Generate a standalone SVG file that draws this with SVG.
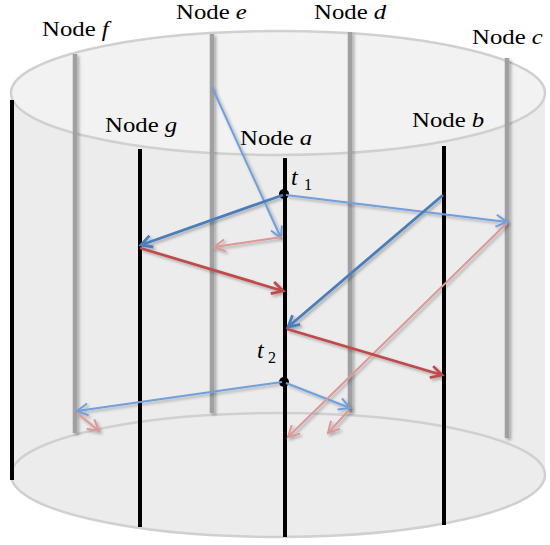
<svg xmlns="http://www.w3.org/2000/svg" width="550" height="545" viewBox="0 0 550 545">
<defs>
<filter id="sh" filterUnits="userSpaceOnUse" x="0" y="0" width="550" height="545">
<feDropShadow dx="2" dy="2" stdDeviation="1.5" flood-color="#000" flood-opacity="0.3"/>
</filter>
<marker id="mDB" viewBox="-12 -8 16 16" markerWidth="16" markerHeight="16" refX="0" refY="0" orient="auto" markerUnits="userSpaceOnUse" overflow="visible"><path d="M-11,-6 L0,0 L-11,6" fill="none" stroke="#4a7ebb" stroke-width="2.8"/></marker>
<marker id="mLB" viewBox="-12 -8 16 16" markerWidth="16" markerHeight="16" refX="0" refY="0" orient="auto" markerUnits="userSpaceOnUse" overflow="visible"><path d="M-11,-6 L0,0 L-11,6" fill="none" stroke="#6f9fdc" stroke-width="2"/></marker>
<marker id="mDR" viewBox="-12 -8 16 16" markerWidth="16" markerHeight="16" refX="0" refY="0" orient="auto" markerUnits="userSpaceOnUse" overflow="visible"><path d="M-11,-6 L0,0 L-11,6" fill="none" stroke="#be4b48" stroke-width="2.8"/></marker>
<marker id="mLR" viewBox="-12 -8 16 16" markerWidth="16" markerHeight="16" refX="0" refY="0" orient="auto" markerUnits="userSpaceOnUse" overflow="visible"><path d="M-11,-6 L0,0 L-11,6" fill="none" stroke="#dc9896" stroke-width="2"/></marker>
</defs>
<style>
text{font-family:'Liberation Serif','Times New Roman',serif;fill:#000}
.lbl{font-size:21px}
.it{font-style:italic}
.back{stroke:#a0a0a2;stroke-width:4.5;fill:none}
.front{stroke:#000;stroke-width:4;fill:none}
.db{stroke:#4a7ebb;stroke-width:2.8;fill:none;marker-end:url(#mDB)}
.lb{stroke:#6f9fdc;stroke-width:2;fill:none;marker-end:url(#mLB)}
.dr{stroke:#be4b48;stroke-width:2.8;fill:none;marker-end:url(#mDR)}
.lr{stroke:#dc9896;stroke-width:2;fill:none;marker-end:url(#mLR)}
</style>
<rect width="550" height="545" fill="#fff"/>
<g id="cylinder">
<rect x="11" y="93" width="534" height="382" fill="#ececec"/>
<ellipse cx="278" cy="475" rx="267" ry="62" fill="#ececec" stroke="#d0d0d0" stroke-width="2.5"/>
<ellipse cx="278" cy="93" rx="267" ry="62" fill="#f2f2f2" stroke="#d0d0d0" stroke-width="2.5"/>
</g>
<g id="node-f"><line class="back" x1="75" y1="54" x2="75" y2="433" filter="url(#sh)"/><text class="lbl" transform="translate(42,36) scale(1.18,1)">Node <tspan class="it">f</tspan></text></g>
<g id="node-e"><line class="back" x1="212" y1="34" x2="212" y2="413" filter="url(#sh)"/><text class="lbl" transform="translate(176,19) scale(1.18,1)">Node <tspan class="it">e</tspan></text></g>
<g id="node-d"><line class="back" x1="350" y1="32" x2="350" y2="412" filter="url(#sh)"/><text class="lbl" transform="translate(314,19) scale(1.18,1)">Node <tspan class="it">d</tspan></text></g>
<g id="node-c"><line class="back" x1="507" y1="58" x2="507" y2="438" filter="url(#sh)"/><text class="lbl" transform="translate(472,44) scale(1.18,1)">Node <tspan class="it">c</tspan></text></g>
<g id="node-h"><line class="front" x1="12" y1="100" x2="12" y2="480"/></g>
<g id="node-g"><line class="front" x1="140" y1="149" x2="140" y2="527"/><text class="lbl" transform="translate(105,132) scale(1.18,1)">Node <tspan class="it">g</tspan></text></g>
<g id="node-a"><line class="front" x1="285" y1="158" x2="285" y2="537"/><text class="lbl" transform="translate(240,145) scale(1.18,1)">Node <tspan class="it">a</tspan></text>
<circle cx="284" cy="194" r="5" fill="#000"/><circle cx="284" cy="382" r="5" fill="#000"/>
<text x="291" y="185" font-size="24" font-style="italic">t</text><text x="304" y="190" font-size="16">1</text>
<text x="257" y="358" font-size="24" font-style="italic">t</text><text x="268" y="363" font-size="16">2</text>
</g>
<g id="node-b"><line class="front" x1="444" y1="146" x2="444" y2="525"/><text class="lbl" transform="translate(412,127) scale(1.18,1)">Node <tspan class="it">b</tspan></text></g>
<g id="connectors" filter="url(#sh)">
<line class="lb" x1="212" y1="87" x2="281" y2="238"/>
<line class="lb" x1="286" y1="195" x2="507" y2="222"/>
<line class="lb" x1="282" y1="382" x2="77" y2="411"/>
<line class="lb" x1="286" y1="383" x2="350" y2="408"/>
<line class="lr" x1="282" y1="237" x2="214" y2="247"/>
<line class="lr" x1="507" y1="223" x2="288" y2="437"/>
<line class="lr" x1="349" y1="410" x2="328" y2="433"/>
<line class="lr" x1="77" y1="413" x2="99" y2="431"/>
<line class="dr" x1="140" y1="248" x2="283" y2="291"/>
<line class="dr" x1="287" y1="329" x2="442" y2="375"/>
<line class="db" x1="283" y1="195" x2="141" y2="245"/>
<line class="db" x1="443" y1="195" x2="288" y2="327"/>
</g>
</svg>
